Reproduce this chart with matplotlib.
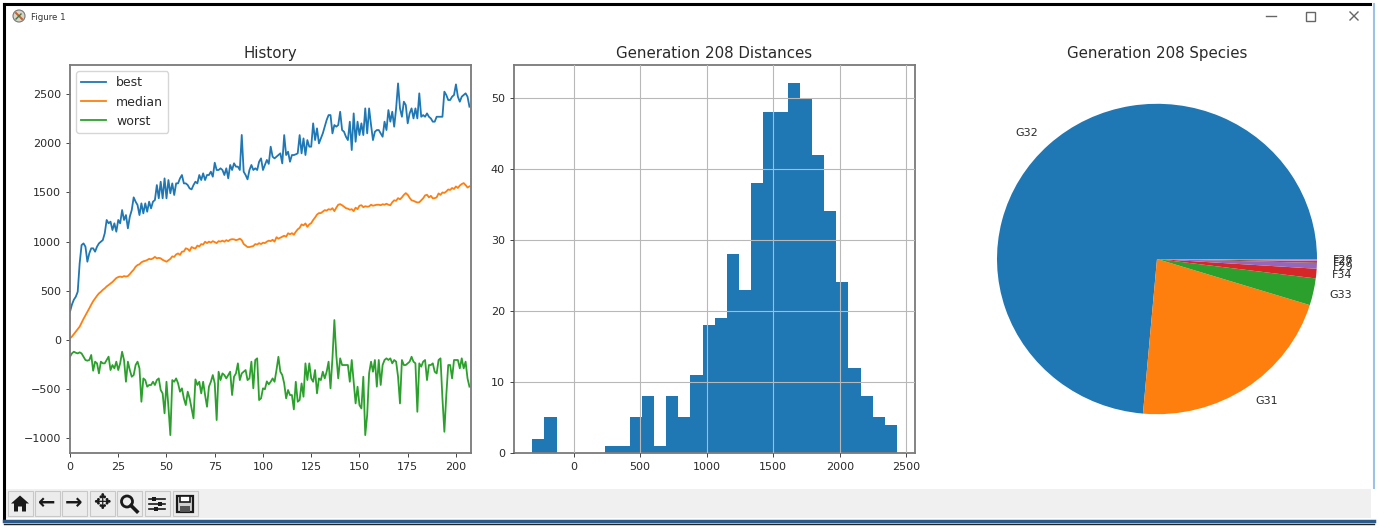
import numpy as np
from matplotlib import pyplot as plt
import matplotlib.patches as mpatches

W, H = 1379, 528

best = [288, 360, 410, 440, 491, 779, 965, 982, 949, 796,
        881, 932, 932, 898, 949, 982, 999, 1016, 1084, 1220,
        1186, 1203, 1118, 1186, 1101, 1220, 1186, 1321, 1220, 1270,
        1135, 1254, 1321, 1450, 1406, 1372, 1270, 1389, 1287, 1389,
        1304, 1406, 1338, 1406, 1423, 1575, 1440, 1609, 1440, 1643,
        1440, 1626, 1491, 1592, 1474, 1592, 1592, 1643, 1677, 1592,
        1592, 1575, 1541, 1531, 1575, 1609, 1592, 1677, 1626, 1694,
        1626, 1677, 1677, 1711, 1660, 1802, 1728, 1728, 1745, 1728,
        1677, 1745, 1643, 1779, 1728, 1796, 1762, 1762, 1728, 2084,
        1711, 1677, 1633, 1728, 1779, 1728, 1745, 1728, 1812, 1846,
        1728, 1780, 1830, 1790, 1965, 1863, 1846, 1863, 1880, 1897,
        1795, 2083, 1880, 1914, 1812, 1880, 1880, 1887, 1897, 2083,
        1897, 2049, 1880, 2032, 1965, 1965, 2202, 2032, 2151, 1998,
        2049, 2100, 2168, 2236, 2286, 2286, 2100, 2185, 2168, 2185,
        2320, 2134, 2117, 2066, 2032, 2219, 1931, 2303, 2015, 2219,
        2083, 2202, 2083, 2354, 2100, 2354, 2185, 2032, 2117, 2134,
        2134, 2100, 2066, 2219, 2134, 2337, 2219, 2320, 2168, 2354,
        2608, 2354, 2269, 2422, 2388, 2202, 2303, 2354, 2252, 2354,
        2252, 2507, 2269, 2286, 2269, 2303, 2269, 2252, 2219, 2219,
        2269, 2269, 2269, 2269, 2524, 2490, 2439, 2439, 2473, 2490,
        2598, 2473, 2422, 2473, 2490, 2507, 2473, 2371]

median = [17, 35, 60, 85, 110, 136, 175, 215, 250, 285,
          322, 360, 395, 423, 450, 474, 490, 510, 525, 545,
          559, 575, 590, 610, 630, 640, 645, 640, 650, 645,
          650, 670, 694, 715, 745, 762, 770, 790, 800, 805,
          813, 825, 820, 830, 845, 830, 835, 830, 815, 805,
          796, 810, 825, 850, 845, 870, 880, 865, 898, 900,
          932, 925, 905, 945, 935, 930, 960, 950, 975, 970,
          999, 985, 1000, 990, 1005, 995, 985, 1005, 1000, 1010,
          999, 1015, 1005, 1020, 1025, 1023, 1015, 1020, 1030, 1015,
          976, 960, 945, 945, 950, 955, 975, 970, 985, 975,
          989, 985, 1000, 1010, 1005, 1019, 1000, 1045, 1030, 1040,
          1050, 1060, 1050, 1085, 1075, 1086, 1070, 1100, 1125, 1140,
          1175, 1165, 1185, 1150, 1175, 1188, 1220, 1245, 1275, 1290,
          1290, 1305, 1320, 1315, 1330, 1324, 1340, 1310, 1345, 1375,
          1381, 1370, 1355, 1340, 1335, 1324, 1330, 1310, 1345, 1330,
          1365, 1370, 1350, 1360, 1355, 1358, 1375, 1365, 1370, 1375,
          1375, 1370, 1380, 1375, 1385, 1375, 1370, 1400, 1420, 1415,
          1442, 1430, 1450, 1475, 1493, 1476, 1445, 1420, 1415, 1405,
          1398, 1400, 1420, 1440, 1470, 1476, 1450, 1465, 1440, 1442,
          1450, 1490, 1475, 1500, 1495, 1510, 1530, 1525, 1545, 1535,
          1561, 1545, 1570, 1585, 1595, 1575, 1550, 1561]

worst = [-169, -136, -119, -129, -136, -125, -136, -169, -203, -210,
         -203, -152, -312, -220, -237, -339, -220, -237, -237, -203,
         -169, -305, -254, -288, -220, -305, -237, -119, -203, -424,
         -220, -305, -373, -356, -254, -220, -288, -627, -390, -407,
         -474, -457, -457, -424, -457, -407, -390, -508, -542, -745,
         -424, -678, -966, -407, -424, -390, -440, -525, -491, -593,
         -661, -525, -593, -695, -796, -400, -457, -424, -542, -424,
         -559, -678, -474, -424, -356, -440, -813, -322, -407, -339,
         -356, -390, -356, -322, -559, -373, -339, -237, -407, -339,
         -322, -305, -407, -390, -220, -491, -203, -186, -610, -593,
         -491, -500, -420, -450, -424, -390, -424, -305, -170, -322,
         -356, -441, -593, -508, -559, -559, -705, -424, -627, -610,
         -441, -576, -237, -407, -237, -390, -424, -305, -542, -390,
         -407, -322, -390, -322, -220, -491, -186, 203, -153, -390,
         -186, -254, -254, -254, -254, -424, -203, -424, -644, -474,
         -661, -695, -373, -966, -762, -339, -220, -322, -203, -474,
         -203, -457, -254, -203, -186, -203, -186, -237, -203, -220,
         -373, -644, -203, -254, -254, -237, -220, -170, -220, -237,
         -729, -237, -271, -220, -203, -407, -254, -254, -237, -322,
         -339, -203, -186, -593, -932, -559, -254, -254, -390, -203,
         -203, -203, -288, -186, -288, -220, -390, -474]

hist_counts = [2, 5, 0, 0, 0, 0, 1, 1, 5, 8, 1, 8, 5, 11, 18,
               19, 28, 23, 38, 48, 48, 52, 50, 42, 34, 24, 12, 8, 5, 4]
hist_lo, hist_hi = -310, 2430

species = ['G32', 'G31', 'G33', 'F34', 'F29', 'F27', 'F26']
species_counts = [368, 108, 14, 5, 3, 1, 1]

SPINE = '#7a7a7a'
TEXT = '#2a2a2a'
ICON = '#1a1a1a'


def px_axes(fig, left, top, right, bottom, **kw):
    # axes from pixel box of the screenshot
    return fig.add_axes([left / W, 1 - bottom / H, (right - left) / W, (bottom - top) / H], **kw)


def style_axes(ax):
    for s in ax.spines.values():
        s.set_color(SPINE)
        s.set_linewidth(1.3)
    ax.tick_params(labelsize=8, colors=TEXT, color='#444444', length=3, width=0.7)
    ax.set_title(ax.get_title(), fontsize=10.8, color=TEXT, pad=5)


def draw_icons(ax, cx, cy):
    # home
    x = cx[0]
    ax.add_patch(mpatches.Polygon([(x - 9, cy), (x, cy - 8), (x + 9, cy), (x + 6, cy), (x + 6, cy + 8),
                                   (x + 2, cy + 8), (x + 2, cy + 3), (x - 2, cy + 3), (x - 2, cy + 8),
                                   (x - 6, cy + 8), (x - 6, cy)], fc=ICON, ec='none'))
    # back, forward and pan are in the font
    for x, g in zip(cx[1:4], ['\u2190', '\u2192', '\u2725']):
        ax.text(x, cy - 0.5, g, fontsize=15, fontweight='bold', color=ICON, ha='center', va='center')
    # zoom
    x = cx[4]
    ax.add_patch(mpatches.Circle((x - 2, cy - 2), 5.5, fc='none', ec=ICON, lw=2))
    ax.plot([x + 2, x + 8], [cy + 2, cy + 8], color=ICON, lw=2.6)
    # sliders
    x = cx[5]
    for dy, knob in [(-5, -3), (0, 3), (5, -1)]:
        ax.plot([x - 8, x + 8], [cy + dy, cy + dy], color=ICON, lw=1.2)
        ax.add_patch(mpatches.Rectangle((x + knob - 2, cy + dy - 2), 4, 4, fc=ICON, ec='none'))
    # save
    x = cx[6]
    ax.add_patch(mpatches.Rectangle((x - 8, cy - 8), 16, 16, fc='#d0d0d0', ec=ICON, lw=1.6))
    ax.add_patch(mpatches.Rectangle((x - 5, cy - 8), 10, 6, fc='white', ec=ICON, lw=1.2))
    ax.add_patch(mpatches.Rectangle((x - 5, cy + 2), 10, 6, fc='#555555', ec='none'))


def draw_window(fig):
    ax = fig.add_axes([0, 0, 1, 1], zorder=-1)
    ax.set_xlim(0, W)
    ax.set_ylim(H, 0)
    ax.axis('off')

    # window frame
    ax.plot([4, 1370], [4, 4], color='k', lw=2.2)
    ax.plot([4, 4], [4, 518], color='k', lw=2.2)
    ax.plot([1374, 1374], [4, 488], color='#9cc3e6', lw=1.5)
    ax.plot([4, 1374], [521, 521], color='#2a5a8c', lw=2.5)
    ax.plot([4, 1374], [523.5, 523.5], color='#222222', lw=1)

    # title bar
    ax.add_patch(mpatches.Circle((19, 16), 6, fc='#d8d4c8', ec='#777777', lw=0.8))
    ax.plot([16, 22], [13, 19], color='#c8602a', lw=1.4)
    ax.plot([16, 21], [19, 14], color='#3a7a4a', lw=1)
    ax.text(31, 17, 'Figure 1', fontsize=6.2, color='#333333', va='center')
    ax.plot([1266, 1276], [16, 16], color='#666666', lw=1)
    ax.add_patch(mpatches.Rectangle((1306, 12), 9, 9, fc='none', ec='#666666', lw=1))
    ax.plot([1350, 1358], [12, 20], color='#666666', lw=1)
    ax.plot([1350, 1358], [20, 12], color='#666666', lw=1)

    # toolbar
    ax.add_patch(mpatches.Rectangle((6, 489), 1365, 29, fc='#f0f0f0', ec='none'))
    centers = [20, 47, 74, 102, 129, 157, 185]
    for x in centers:
        ax.add_patch(mpatches.Rectangle((x - 12.5, 491), 25.5, 25, fc='#ececec', ec='#c8c8c8', lw=0.8))
    draw_icons(ax, centers, 503.5)


fig = plt.figure(figsize=(W / 100, H / 100), dpi=100, facecolor='white')
draw_window(fig)

# history
ax1 = px_axes(fig, 70, 65, 471, 453)
gens = np.arange(len(best))
ax1.plot(gens, best, color='C0', lw=1.3, label='best')
ax1.plot(gens, median, color='C1', lw=1.3, label='median')
ax1.plot(gens, worst, color='C2', lw=1.3, label='worst')
ax1.set_xlim(0, 207.8)
ax1.set_ylim(-1148, 2795)
ax1.set_title('History')
ax1.legend(loc='upper left', fontsize=9, labelcolor=TEXT)
style_axes(ax1)

# distances histogram
ax2 = px_axes(fig, 514, 65, 915, 453)
edges = np.linspace(hist_lo, hist_hi, len(hist_counts) + 1)
ax2.bar(edges[:-1], hist_counts, width=np.diff(edges), align='edge', color='C0')
ax2.set_xlim(-447, 2564)
ax2.set_ylim(0, 54.6)
ax2.grid(True, color='#b8b8b8', lw=0.8)
ax2.set_axisbelow(False)
ax2.set_title('Generation 208 Distances')
style_axes(ax2)

# species pie, screenshot is stretched so aspect is not kept
ax3 = px_axes(fig, 957, 65, 1357, 453)
wedges, labels = ax3.pie(species_counts, labels=species, textprops={'fontsize': 8, 'color': TEXT})
ax3.set_aspect('auto')
ax3.set_xlim(-1.25, 1.25)
ax3.set_ylim(-1.25, 1.25)
ax3.set_title('Generation 208 Species', fontsize=10.8, color=TEXT, pad=5)

fig.savefig('out.png', dpi=100)
